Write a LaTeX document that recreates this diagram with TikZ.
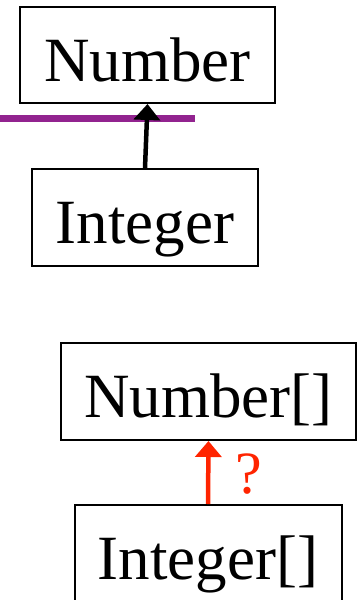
\documentclass[tikz,border=0pt]{standalone}
\usepackage{fontspec}
\setmainfont{Liberation Serif}
\usetikzlibrary{arrows.meta}
\definecolor{barpurple}{RGB}{146,35,143}
\definecolor{askred}{RGB}{255,36,0}

\begin{document}
\begin{tikzpicture}[x=1pt, y=1pt,
    typebox/.style={draw, line width=2pt, inner sep=0pt, text height=60pt, text depth=8pt,
        font=\fontsize{63}{63}\selectfont},
    subtype/.style={-{Triangle[width=26pt,length=16pt]}, line width=4.5pt}]
    \useasboundingbox (0,0) rectangle (363,-600);
    \clip (0,0) rectangle (363,-600);
    % Nodes {num, int, numarr, intarr}
    \node [typebox, minimum width=255pt, minimum height=96pt]  (num)    at (147.5,-55)   {Number};
    \node [typebox, minimum width=226pt, minimum height=97pt]  (int)    at (145,-217.5)  {Integer};
    \node [typebox, minimum width=295pt, minimum height=97pt]  (numarr) at (208.5,-391.5) {Number[]};
    \node [typebox, minimum width=267pt, minimum height=97pt]  (intarr) at (208,-553.5)  {Integer[]};
    \coordinate (barL) at (0,-118.5);
    \coordinate (barR) at (195,-118.5);

    % Paths
    \draw [barpurple, line width=7pt] (barL) -- (barR);
    \draw [subtype] (int.north) -- (num.south);
    \draw [subtype, askred] (intarr.north) -- (numarr.south)
        node [midway, right=25pt, yshift=-2pt, inner sep=0pt, font=\fontsize{60}{60}\selectfont] {?};
\end{tikzpicture}
\end{document}
